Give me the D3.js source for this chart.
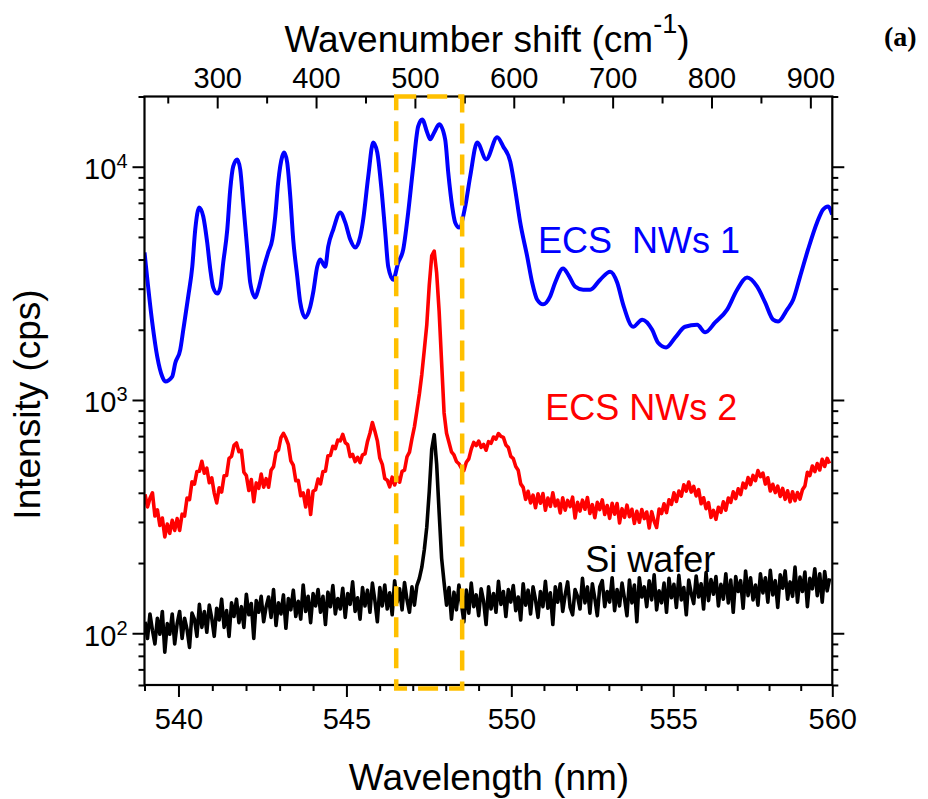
<!DOCTYPE html>
<html>
<head>
<meta charset="utf-8">
<script src="https://cdn.jsdelivr.net/npm/d3@7"></script>
<style>
  html, body { margin: 0; padding: 0; background: #fff; }
  svg { display: block; }
</style>
</head>
<body>
<svg id="chart" width="928" height="799" font-family="Arial, 'Liberation Sans', Helvetica, sans-serif"></svg>
<script>
// Excitation wavelength used to convert wavelength into Raman shift
const laserNm = 532.5;

// Axis ticks
const wavelengthTicks = [540, 545, 550, 555, 560];
const wavelengthMinor = [539, 541, 542, 543, 544, 546, 547, 548, 549, 551, 552, 553, 554, 556, 557, 558, 559];
const shiftTicks = [300, 400, 500, 600, 700, 800, 900];
const shiftMinor = [250, 350, 450, 550, 650, 750, 850];
const intensityTicks = [100, 1000, 10000];
const intensityMinor = [60, 70, 80, 90, 200, 300, 400, 500, 600, 700, 800, 900,
  2000, 3000, 4000, 5000, 6000, 7000, 8000, 9000, 20000];

// ECS NWs 1 (Raman shift in cm-1, intensity in cps)
const ecs1Shift = [226.5, 234.3, 239.4, 244.4, 247.5, 254.5, 257.6, 262.6, 265.7, 270.7,
  274.8, 277.8, 281.8, 285.9, 289.9, 293.0, 296.0, 300.1, 303.1, 306.1,
  310.2, 313.2, 316.2, 320.3, 323.3, 326.3, 330.4, 333.4, 338.5, 341.5,
  346.6, 351.6, 355.7, 358.7, 361.7, 365.8, 367.8, 370.8, 373.9, 376.9,
  381.0, 384.0, 389.0, 394.1, 397.1, 401.2, 404.2, 409.3, 412.3, 417.4,
  424.4, 429.5, 434.6, 439.6, 444.7, 447.7, 452.8, 457.8, 461.9, 465.9,
  470.0, 473.0, 478.0, 483.1, 488.2, 493.2, 498.3, 503.3, 507.4, 512.4,
  515.5, 519.5, 524.6, 530.6, 533.7, 537.7, 540.7, 544.8, 550.9, 555.9,
  563.0, 572.1, 583.2, 589.3, 596.4, 601.4, 606.5, 613.6, 618.6, 623.7,
  629.7, 636.8, 641.9, 649.9, 655.0, 662.1, 670.2, 677.3, 687.4, 697.5,
  704.6, 710.6, 720.7, 729.9, 740.0, 746.0, 754.1, 763.2, 773.3, 785.5,
  793.6, 803.7, 815.8, 825.9, 836.0, 846.2, 854.2, 862.3, 867.4, 876.5,
  882.6, 889.6, 897.7, 906.8, 912.9, 917.9, 922.0];
const ecs1Intensity = [4290, 2150, 1530, 1260, 1200, 1260, 1440, 1640, 2000, 2780,
  3730, 5380, 6690, 6120, 4730, 3630, 3030, 2860, 3030, 3880,
  5380, 7990, 10030, 10750, 9730, 7030, 4420, 3190, 2750, 2970,
  3630, 4290, 4870, 6120, 8570, 11070, 11520, 10430, 7460, 4870,
  3380, 2620, 2260, 2510, 2890, 3730, 4000, 3730, 4550, 5380,
  6370, 5770, 4870, 4500, 5020, 5940, 9080, 12710, 11520, 8230,
  5220, 3730, 3280, 3880, 4420, 6370, 10030, 14890, 15950, 14030,
  13100, 14030, 15190, 13100, 9440, 6760, 5770, 5490, 6760, 9080,
  12710, 10750, 13370, 12220, 10540, 7990, 5770, 4120, 3190, 2690,
  2570, 2780, 3190, 3660, 3450, 3060, 2970, 2970, 3280, 3550,
  3190, 2570, 2060, 2210, 2000, 1760, 1680, 1850, 2060, 2100,
  1950, 2150, 2440, 2970, 3350, 3060, 2620, 2210, 2170, 2440,
  2690, 3380, 4420, 5770, 6560, 6760, 6240];

// Spectrometer grid shared by the two noisier spectra (cm-1)
const gridShift = d3.range(227, 920, 2.5);

// ECS NWs 2 (cps)
const ecs2Intensity = [394, 348, 379, 400, 318, 338, 290, 312, 259, 294,
  268, 305, 276, 310, 276, 324, 318, 380, 374, 446,
  436, 494, 495, 546, 485, 510, 442, 464, 399, 362,
  420, 403, 473, 475, 562, 573, 639, 654, 600, 608,
  490, 474, 409, 456, 366, 441, 418, 481, 423, 460,
  423, 500, 518, 597, 611, 689, 719, 687, 643, 548,
  525, 451, 452, 389, 400, 348, 410, 323, 406, 412,
  458, 437, 494, 495, 577, 578, 633, 619, 673, 668,
  712, 657, 643, 572, 584, 544, 568, 539, 582, 588,
  663, 720, 801, 735, 668, 563, 530, 461, 453, 424,
  467, 432, 468, 444, 494, 500, 571, 598, 682, 767,
  900, 1060, 1290, 1640, 2100, 3100, 4150, 4350, 3500, 2400,
  1450, 880, 720, 657, 599, 581, 545, 533, 510, 498,
  541, 559, 616, 658, 638, 667, 626, 645, 609, 663,
  652, 694, 680, 718, 698, 691, 642, 626, 573, 561,
  519, 500, 437, 422, 375, 406, 362, 391, 345, 396,
  361, 397, 337, 380, 350, 400, 351, 372, 328, 381,
  337, 371, 349, 383, 312, 364, 334, 372, 340, 382,
  326, 356, 313, 364, 339, 373, 323, 353, 311, 361,
  324, 360, 297, 342, 314, 354, 316, 340, 296, 333,
  299, 339, 310, 331, 283, 332, 302, 284, 341, 326,
  359, 329, 373, 357, 400, 367, 407, 387, 433, 407,
  445, 403, 426, 388, 413, 359, 381, 342, 363, 314,
  336, 308, 347, 330, 366, 337, 380, 364, 404, 378,
  416, 393, 440, 420, 465, 434, 475, 451, 498, 469,
  486, 436, 464, 407, 435, 401, 427, 386, 418, 375,
  408, 366, 404, 370, 401, 376, 412, 428, 490, 474,
  521, 493, 534, 501, 557, 519, 562, 534];

// Si wafer (cps)
const siIntensity = [112, 95, 121, 103, 90, 116, 99, 124, 83, 110,
  99, 121, 90, 110, 124, 95, 116, 104, 87, 122,
  115, 97, 133, 106, 124, 101, 132, 116, 97, 128,
  114, 140, 106, 125, 97, 135, 118, 140, 111, 130,
  106, 147, 120, 134, 95, 138, 123, 144, 112, 130,
  143, 117, 154, 108, 135, 121, 146, 105, 141, 126,
  153, 118, 137, 115, 161, 124, 144, 111, 148, 131,
  154, 123, 144, 109, 150, 130, 160, 121, 141, 127,
  156, 117, 148, 133, 166, 124, 142, 115, 157, 131,
  153, 123, 164, 138, 112, 157, 131, 161, 127, 149,
  120, 168, 136, 155, 126, 165, 139, 123, 158, 132,
  160, 172, 192, 228, 285, 405, 615, 710, 530, 330,
  210, 165, 132, 157, 115, 150, 126, 161, 134, 112,
  153, 122, 164, 130, 146, 119, 155, 137, 109, 158,
  127, 148, 123, 167, 133, 151, 118, 154, 136, 160,
  125, 143, 114, 163, 132, 153, 121, 158, 139, 117,
  151, 130, 167, 128, 149, 109, 158, 136, 163, 124,
  146, 166, 129, 120, 154, 144, 127, 172, 135, 158,
  122, 163, 141, 119, 158, 168, 130, 151, 136, 173,
  125, 154, 131, 164, 141, 119, 169, 135, 161, 112,
  173, 143, 158, 130, 168, 139, 178, 126, 152, 135,
  164, 123, 172, 142, 162, 129, 177, 139, 157, 120,
  169, 148, 134, 176, 143, 163, 127, 182, 138, 170,
  147, 175, 131, 162, 140, 180, 135, 169, 123, 175,
  151, 168, 128, 185, 145, 173, 139, 161, 132, 180,
  149, 173, 136, 186, 146, 168, 129, 178, 156, 185,
  140, 166, 144, 192, 136, 174, 151, 183, 130, 172,
  155, 189, 145, 180, 136, 184, 152, 172];

// Highlighted window around the Si phonon line (nm, cps)
const windowNm = [546.5, 548.5];
const windowIntensity = [58, 20000];

// Curve labels: [text, colour, wavelength nm, intensity cps]
const seriesLabels = [
  ["ECS\u00a0\u00a0NWs 1", "#0000ff", 550.82, 4270],
  ["ECS NWs 2", "#ff0000", 551.04, 820],
  ["Si wafer", "#000000", 552.27, 183]
];

// ---------------------------------------------------------------
const svg = d3.select("#chart");
const m = { left: 144.5, right: 832.3, top: 96.5, bottom: 685 };
const shiftOf = nm => 1e7 / laserNm - 1e7 / nm;

const x = d3.scaleLinear().domain([shiftOf(539), shiftOf(560)]).range([m.left, m.right]);
const xWn = d3.scaleLinear().domain([1e7 / 539, 1e7 / 560]).range([m.left, m.right]);
const y = d3.scaleLog().domain([60, 20000]).range([m.bottom, m.top]);

svg.append("defs").append("clipPath").attr("id", "plotClip")
  .append("rect").attr("x", m.left).attr("y", m.top)
  .attr("width", m.right - m.left).attr("height", m.bottom - m.top);

// Spectra
const smooth = d3.line().x(d => x(d[0])).y(d => y(d[1])).curve(d3.curveMonotoneX);
const jagged = d3.line().x(d => x(d[0])).y(d => y(d[1]));
const plot = svg.append("g").attr("clip-path", "url(#plotClip)");

plot.append("path")
  .datum(ecs1Shift.map((s, i) => [s, ecs1Intensity[i]]))
  .attr("d", smooth).attr("fill", "none").attr("stroke", "#0000ff")
  .attr("stroke-width", 4).attr("stroke-linejoin", "round");
plot.append("path")
  .datum(gridShift.map((s, i) => [s, ecs2Intensity[i]]))
  .attr("d", jagged).attr("fill", "none").attr("stroke", "#ff0000")
  .attr("stroke-width", 3.6).attr("stroke-linejoin", "round");
plot.append("path")
  .datum(gridShift.map((s, i) => [s, siIntensity[i]]))
  .attr("d", jagged).attr("fill", "none").attr("stroke", "#000000")
  .attr("stroke-width", 3.6).attr("stroke-linejoin", "round");

// Axes
const tickStyle = g => {
  g.select(".domain").remove();
  g.selectAll(".tick line").attr("stroke", "#000").attr("stroke-width", 2);
};

// bottom: wavelength (reciprocal spacing)
svg.append("g").attr("transform", `translate(0,${m.bottom})`)
  .call(d3.axisBottom(xWn).tickValues(wavelengthMinor.map(l => 1e7 / l)).tickSize(6).tickFormat(""))
  .call(tickStyle);
const bottomAxis = svg.append("g").attr("transform", `translate(0,${m.bottom})`)
  .call(d3.axisBottom(xWn).tickValues(wavelengthTicks.map(l => 1e7 / l))
    .tickSize(12).tickFormat(d => Math.round(1e7 / d)))
  .call(tickStyle);
bottomAxis.attr("font-family", null).attr("font-size", null);
bottomAxis.selectAll("text").attr("font-size", 29).attr("fill", "#000")
  .attr("y", 44).attr("dy", null);

// top: Raman shift, ticks point inward
svg.append("g").attr("transform", `translate(0,${m.top})`)
  .call(d3.axisTop(x).tickValues(shiftMinor).tickSizeInner(-7).tickSizeOuter(0).tickFormat(""))
  .call(tickStyle);
const topAxis = svg.append("g").attr("transform", `translate(0,${m.top})`)
  .call(d3.axisTop(x).tickValues(shiftTicks).tickSizeInner(-12).tickSizeOuter(0))
  .call(tickStyle);
topAxis.attr("font-family", null).attr("font-size", null);
topAxis.selectAll("text").attr("font-size", 29).attr("fill", "#000")
  .attr("y", -8.5);

// left and right: intensity
[[d3.axisLeft, m.left], [d3.axisRight, m.right]].forEach(([axisFn, xPos]) => {
  svg.append("g").attr("transform", `translate(${xPos},0)`)
    .call(axisFn(y).tickValues(intensityMinor).tickSize(6).tickFormat(""))
    .call(tickStyle);
  svg.append("g").attr("transform", `translate(${xPos},0)`)
    .call(axisFn(y).tickValues(intensityTicks).tickSize(12).tickFormat(""))
    .call(tickStyle);
});

// power-of-ten labels on the left axis
const yLabels = svg.append("g");
intensityTicks.forEach(v => {
  const t = yLabels.append("text")
    .attr("x", m.left - 17).attr("y", y(v) + 12.5)
    .attr("text-anchor", "end").attr("font-size", 29).attr("fill", "#000");
  t.append("tspan").text("10");
  t.append("tspan").attr("font-size", 20).attr("dy", -11).text(Math.round(Math.log10(v)));
});

// frame
svg.append("rect").attr("x", m.left).attr("y", m.top)
  .attr("width", m.right - m.left).attr("height", m.bottom - m.top)
  .attr("fill", "none").attr("stroke", "#000").attr("stroke-width", 2.2);

// highlighted window
const wx0 = x(shiftOf(windowNm[0])), wx1 = x(shiftOf(windowNm[1]));
const wy0 = y(windowIntensity[1]), wy1 = y(windowIntensity[0]);
svg.append("rect")
  .attr("x", wx0).attr("y", wy0).attr("width", wx1 - wx0).attr("height", wy1 - wy0)
  .attr("fill", "none").attr("stroke", "#ffc000").attr("stroke-width", 4.5)
  .attr("stroke-dasharray", "20 11");

// curve labels
svg.append("g").selectAll("text").data(seriesLabels).join("text")
  .attr("x", d => x(shiftOf(d[2]))).attr("y", d => y(d[3]))
  .attr("font-size", 36).attr("fill", d => d[1])
  .text(d => d[0]);

// axis titles
svg.append("text").attr("x", 489).attr("y", 790).attr("text-anchor", "middle")
  .attr("font-size", 37).attr("fill", "#000").text("Wavelength (nm)");

const topTitle = svg.append("text").attr("x", 487).attr("y", 51.7)
  .attr("text-anchor", "middle").attr("font-size", 37).attr("fill", "#000");
topTitle.append("tspan").text("Wavenumber shift (cm");
topTitle.append("tspan").attr("font-size", 27).attr("dy", -19).text("-1");
topTitle.append("tspan").attr("dy", 19).text(")");

svg.append("text").attr("transform", "translate(40,404.5) rotate(-90)")
  .attr("text-anchor", "middle").attr("font-size", 37).attr("fill", "#000")
  .text("Intensity (cps)");

// panel tag
svg.append("text").attr("x", 884).attr("y", 46)
  .style("font-family", "'Times New Roman', 'Liberation Serif', serif")
  .attr("font-weight", "bold").attr("font-size", 28).attr("fill", "#000")
  .text("(a)");
</script>
</body>
</html>
